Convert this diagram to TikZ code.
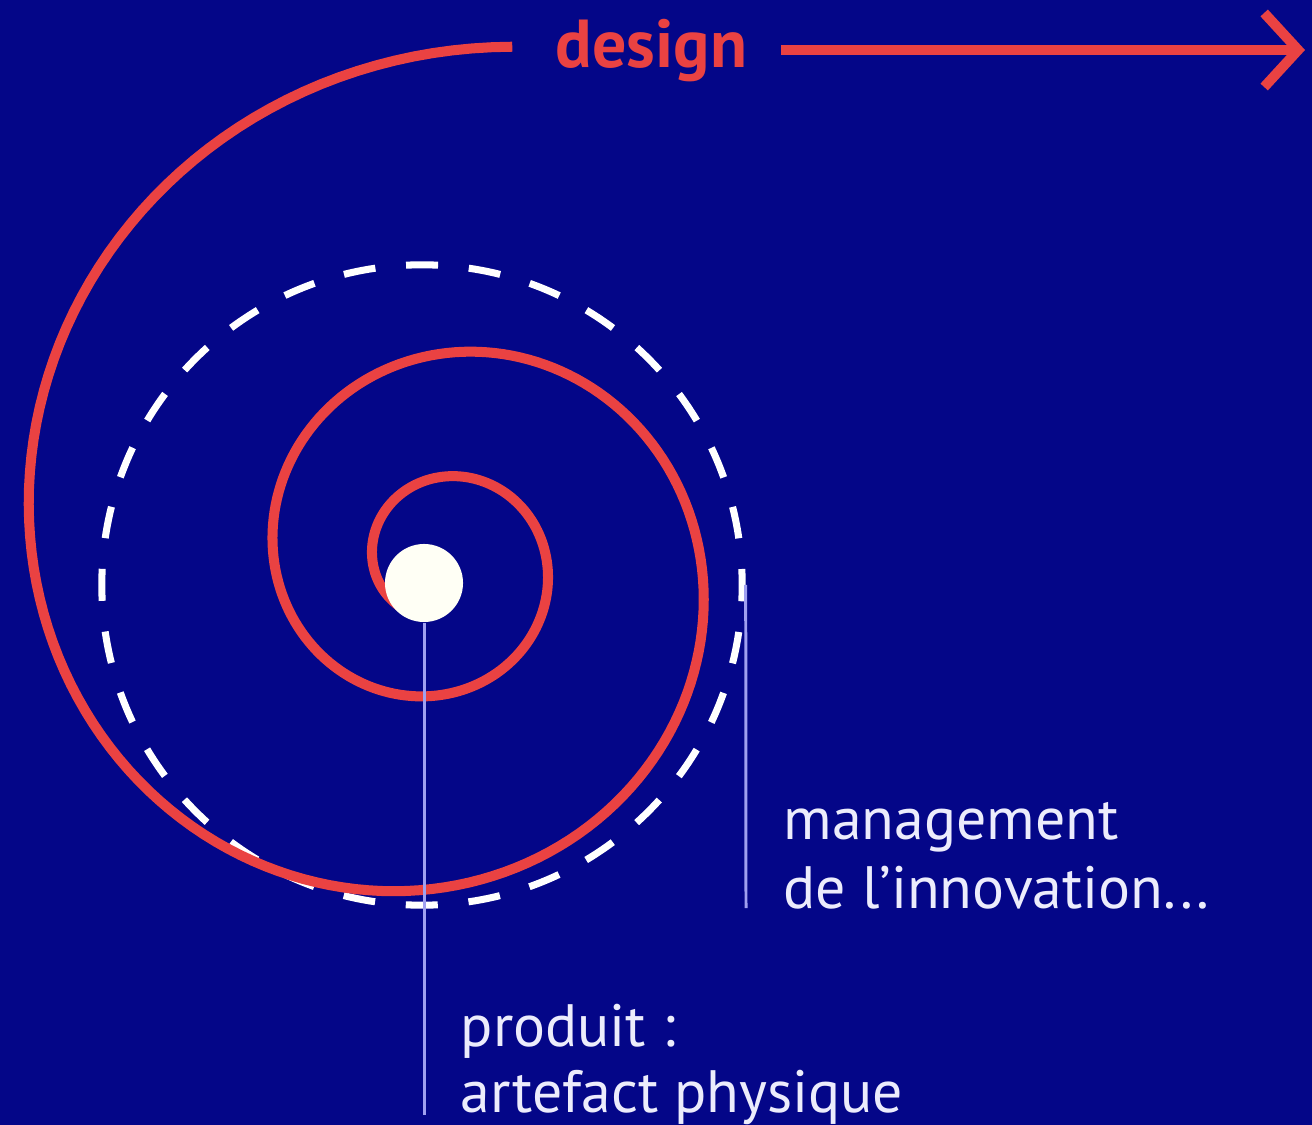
\documentclass[tikz,border=0pt]{standalone}
\usepackage{fontspec}
\setmainfont{PT Sans}
\usetikzlibrary{arrows.meta}
\definecolor{navy}{RGB}{4,6,136}
\definecolor{spiralred}{RGB}{234,66,66}
\definecolor{guide}{RGB}{160,160,240}
\definecolor{pale}{RGB}{236,236,252}
\begin{document}
\begin{tikzpicture}[x=0.01cm, y=-0.01cm,
      redline/.style={spiralred, line width=2.85pt},
      guideline/.style={guide, line width=0.85pt},
      caption/.style={pale, font=\fontsize{17}{20}\selectfont, anchor=base west, inner sep=0pt}]
      \fill[navy] (0,0) rectangle (1312,1125);
      \useasboundingbox (0,0) rectangle (1312,1125);
      % dashed ring
      \node[circle, draw=white, line width=2pt, dash pattern=on 0.32cm off 0.3083cm, dash phase=0.16cm,
            minimum size=6.4cm, inner sep=0pt] (ring) at (422,585) {};
      % spiral, growing by 1.565 each half turn
      \draw[redline] plot[domain=2.0:17.2788, samples=400, variable=\t]
            ({440.6+44.3*exp(0.1426*\t)*cos(deg(\t)+8.11)}, {562+44.3*exp(0.1426*\t)*sin(deg(\t)+8.11)});
      \node[spiralred, font=\bfseries\fontsize{19.3}{22}\selectfont, inner xsep=0.33cm, inner ysep=0pt,
            anchor=base west] (design) at (522,68) {design};
      \coordinate (tip) at (1305,50);
      \draw[redline, -{Straight Barb[length=0.34cm, width=0.74cm]}] (design.east |- tip) -- (tip);
      \node[circle, fill={rgb,255:red,255;green,255;blue,245}, minimum size=0.78cm, inner sep=0pt] (dot) at (424,583) {};
      \coordinate (prodfoot) at (424,1115);
      \coordinate (mgmtfoot) at (746,908);
      \draw[guideline] (dot.south) -- (prodfoot);
      \draw[guideline] (ring.east) -- (mgmtfoot);
      \node[caption] (mgmt) at (783,840) {management};
      \node[caption] (innov) at (783,908) {de l’innovation...};
      \node[caption] (prod) at (460,1046) {produit :};
      \node[caption] (artefact) at (460,1112) {artefact physique};
\end{tikzpicture}
\end{document}
